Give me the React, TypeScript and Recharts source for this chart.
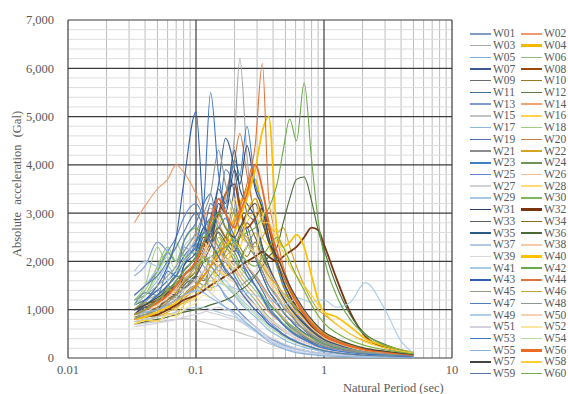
import React from "react";
import { LineChart, Line, XAxis, YAxis, CartesianGrid } from "recharts";

// natural periods (sec) shared by every spectrum
const PERIODS = [0.033, 0.04, 0.05, 0.06, 0.07, 0.08, 0.1, 0.115, 0.13, 0.15, 0.17, 0.2, 0.22, 0.25, 0.29, 0.33, 0.37, 0.43, 0.48, 0.54, 0.61, 0.7, 0.8, 0.9, 1, 1.25, 1.6, 2.1, 3, 4, 5];

// absolute acceleration (Gal), one list per wave
const W01 = [1000, 1150, 1400, 1300, 1600, 1500, 1900, 1700, 2100, 1800, 2000, 1700, 1500, 1300, 1100, 950, 800, 650, 560, 480, 400, 330, 270, 230, 200, 150, 110, 80, 60, 45, 35];
const W02 = [2800, 3150, 3500, 3700, 4000, 3850, 3400, 3000, 2600, 2300, 2100, 1900, 1700, 1500, 1300, 1100, 950, 800, 700, 600, 500, 420, 350, 300, 260, 200, 150, 110, 80, 60, 45];
const W03 = [1100, 1200, 1300, 1400, 1500, 1600, 1800, 2100, 2400, 2700, 3300, 4600, 6200, 4200, 2800, 2300, 1900, 1500, 1250, 1050, 850, 650, 500, 400, 330, 250, 180, 120, 80, 60, 45];
const W04 = [900, 950, 1000, 1100, 1200, 1300, 1500, 1700, 1900, 2200, 2500, 2900, 3200, 3500, 3700, 3000, 2400, 1900, 1500, 1200, 1000, 800, 600, 480, 400, 300, 220, 150, 100, 70, 55];
const W05 = [800, 950, 900, 1150, 1050, 1300, 1500, 1650, 1450, 1500, 1250, 1100, 950, 800, 650, 520, 420, 330, 270, 220, 180, 150, 120, 100, 90, 70, 55, 40, 30, 25, 20];
const W06 = [1200, 1400, 1900, 2300, 2000, 2200, 2500, 2300, 2700, 2400, 2100, 1800, 1600, 1400, 1200, 1000, 850, 700, 600, 520, 450, 380, 320, 270, 240, 180, 130, 95, 70, 55, 40];
const W07 = [1000, 1100, 1300, 1500, 1700, 1600, 2000, 2300, 2900, 3600, 4550, 3900, 3200, 2600, 2100, 1700, 1400, 1150, 950, 800, 650, 520, 430, 360, 300, 230, 170, 120, 90, 65, 50];
const W08 = [1000, 1100, 1200, 1350, 1500, 1700, 2000, 2300, 2600, 3000, 3400, 3600, 3100, 2700, 2900, 3100, 2700, 2000, 1600, 1300, 1050, 850, 650, 520, 430, 320, 230, 160, 110, 80, 60];
const W09 = [900, 1050, 1000, 1250, 1200, 1500, 1700, 2100, 1900, 2700, 2500, 3500, 3800, 3000, 2800, 2300, 1900, 1500, 1200, 950, 750, 580, 450, 370, 300, 220, 160, 110, 80, 60, 45];
const W10 = [850, 900, 1000, 1150, 1300, 1250, 1500, 1800, 2000, 1900, 2200, 2500, 2300, 2100, 2400, 2000, 1700, 1400, 1200, 1000, 850, 700, 550, 450, 380, 280, 200, 140, 95, 70, 55];
const W11 = [1100, 1200, 1400, 1600, 1800, 2100, 2400, 2700, 2900, 3000, 2700, 2400, 2200, 1900, 1650, 1400, 1150, 950, 800, 650, 530, 420, 330, 270, 230, 170, 120, 85, 60, 45, 35];
const W12 = [900, 1000, 1150, 1300, 1250, 1400, 1700, 1600, 1900, 2200, 2000, 1800, 2000, 2300, 2100, 1800, 1500, 1300, 1100, 950, 800, 650, 520, 430, 350, 260, 190, 130, 90, 65, 50];
const W13 = [1700, 1900, 2400, 2200, 2000, 2300, 2100, 1900, 1700, 1500, 1300, 1100, 950, 800, 650, 530, 430, 350, 290, 240, 200, 160, 130, 110, 95, 75, 55, 40, 30, 25, 20];
const W14 = [1000, 1100, 1300, 1500, 1700, 2000, 2500, 2900, 3100, 2800, 2500, 2300, 2100, 1900, 1700, 1450, 1250, 1000, 850, 700, 580, 470, 380, 310, 260, 200, 150, 105, 75, 55, 40];
const W15 = [700, 720, 750, 780, 800, 820, 780, 740, 700, 650, 600, 560, 520, 470, 420, 360, 300, 240, 200, 160, 130, 100, 80, 65, 55, 40, 30, 22, 18, 15, 12];
const W16 = [800, 900, 850, 1050, 1000, 1250, 1400, 1700, 1500, 2000, 1900, 2400, 2300, 2800, 3000, 2500, 2300, 1900, 1600, 1350, 1150, 950, 780, 640, 540, 400, 290, 200, 140, 100, 75];
const W17 = [1100, 1300, 1600, 1900, 1700, 2000, 2400, 2100, 1900, 1700, 1500, 1300, 1150, 1000, 850, 700, 580, 470, 390, 320, 270, 220, 180, 150, 130, 100, 75, 55, 40, 30, 25];
const W18 = [1200, 1500, 2300, 1900, 2400, 2100, 2300, 2600, 2400, 2100, 2300, 2000, 1800, 1600, 1400, 1200, 1000, 850, 720, 620, 530, 450, 380, 320, 280, 210, 150, 110, 80, 60, 45];
const W19 = [900, 1050, 1150, 1450, 1400, 1900, 2300, 2600, 3200, 3000, 3900, 3400, 2600, 2700, 2100, 1700, 1400, 1150, 950, 800, 650, 520, 420, 340, 290, 210, 150, 105, 75, 55, 40];
const W20 = [1000, 1050, 1150, 1300, 1450, 1600, 1900, 2200, 2500, 2900, 3400, 4100, 4650, 3800, 2900, 2300, 1900, 1550, 1300, 1100, 900, 720, 570, 460, 380, 280, 200, 140, 100, 75, 55];
const W21 = [800, 900, 880, 1100, 1050, 1300, 1500, 1400, 1900, 1700, 2300, 2000, 1900, 1800, 1500, 1300, 1100, 950, 800, 680, 560, 450, 360, 300, 250, 190, 140, 100, 70, 55, 40];
const W22 = [750, 800, 850, 950, 1050, 1150, 1300, 1500, 1700, 1900, 2100, 2300, 2500, 2400, 2300, 2500, 2700, 2600, 2700, 2300, 1900, 1500, 1200, 1000, 900, 700, 500, 350, 230, 160, 120];
const W23 = [1000, 1150, 1100, 1450, 1400, 1800, 2100, 2600, 2400, 3300, 3100, 4100, 3800, 4800, 3600, 3200, 2500, 1900, 1500, 1200, 950, 750, 580, 460, 380, 280, 200, 140, 100, 75, 55];
const W24 = [1000, 1100, 1300, 1500, 1700, 1650, 1900, 2100, 2000, 2300, 2500, 2200, 2000, 2300, 2600, 2200, 1800, 1500, 1300, 1150, 1000, 850, 700, 580, 480, 360, 260, 180, 120, 90, 65];
const W25 = [1300, 1500, 1800, 2200, 2500, 2900, 3200, 2900, 2600, 2300, 2000, 1700, 1500, 1300, 1100, 900, 750, 600, 500, 420, 350, 280, 220, 180, 150, 110, 80, 60, 45, 35, 25];
const W26 = [900, 950, 1050, 1150, 1300, 1450, 1600, 1800, 2000, 2200, 2000, 1800, 1700, 1900, 2100, 1900, 1600, 1300, 1100, 950, 800, 650, 520, 430, 360, 270, 200, 140, 100, 70, 55];
const W27 = [700, 730, 780, 850, 900, 950, 1000, 980, 940, 900, 850, 800, 750, 680, 600, 520, 440, 360, 300, 250, 200, 160, 130, 110, 90, 70, 50, 38, 28, 22, 18];
const W28 = [1000, 1150, 1100, 1400, 1350, 1700, 2000, 2400, 2200, 2900, 2700, 3300, 3000, 2500, 2600, 2000, 1700, 1400, 1200, 1000, 850, 700, 560, 460, 380, 280, 200, 140, 100, 75, 55];
const W29 = [1800, 2000, 1900, 2200, 2000, 2300, 2500, 2200, 2000, 1800, 1600, 1400, 1250, 1100, 950, 800, 680, 560, 470, 400, 340, 280, 230, 190, 160, 120, 90, 65, 50, 38, 30];
const W30 = [1100, 1300, 1800, 2200, 2000, 2400, 2700, 2500, 2900, 2600, 2300, 2100, 1900, 1700, 1500, 1300, 1100, 950, 800, 700, 600, 500, 420, 350, 300, 230, 170, 120, 85, 65, 50];
const W31 = [900, 1050, 1000, 1350, 1300, 1700, 2000, 2500, 2300, 3200, 3000, 3900, 3600, 4400, 3500, 3100, 2500, 2000, 1600, 1300, 1050, 850, 670, 540, 450, 330, 240, 170, 120, 90, 65];
const W32 = [800, 850, 900, 1000, 1100, 1200, 1300, 1400, 1500, 1600, 1700, 1800, 1900, 2000, 2100, 2200, 2100, 2000, 2100, 2200, 2300, 2500, 2700, 2650, 2350, 1650, 950, 450, 220, 140, 95];
const W33 = [1000, 1050, 1200, 1350, 1500, 1450, 1700, 2000, 2300, 2600, 2400, 2200, 2500, 2800, 2500, 2100, 1800, 1500, 1250, 1050, 880, 720, 580, 470, 390, 290, 210, 150, 100, 75, 55];
const W34 = [900, 950, 1050, 1200, 1350, 1550, 1800, 2100, 2400, 2700, 2500, 2300, 2600, 3000, 3300, 2900, 2400, 2000, 1700, 1400, 1150, 920, 720, 580, 480, 350, 250, 170, 120, 85, 65];
const W35 = [1000, 1150, 1100, 1500, 1400, 1900, 2200, 2700, 2500, 3500, 3200, 4300, 3500, 3200, 2900, 2300, 1900, 1500, 1250, 1050, 870, 700, 560, 450, 380, 280, 200, 140, 100, 75, 55];
const W36 = [700, 750, 800, 850, 900, 950, 1000, 1050, 1100, 1150, 1200, 1300, 1400, 1500, 1700, 1900, 2100, 2300, 2800, 3300, 3700, 3750, 3250, 2650, 2250, 1500, 900, 500, 280, 170, 110];
const W37 = [1300, 1500, 1800, 1600, 1900, 1700, 1600, 1500, 1350, 1200, 1050, 900, 780, 660, 550, 450, 370, 300, 250, 210, 170, 140, 115, 95, 80, 60, 45, 35, 26, 20, 16];
const W38 = [900, 1000, 1100, 1250, 1400, 1600, 1900, 2100, 2400, 2200, 2000, 2300, 2600, 2400, 2200, 2000, 1800, 1500, 1300, 1100, 950, 780, 620, 510, 420, 310, 220, 150, 105, 80, 60];
const W39 = [800, 850, 950, 1100, 1250, 1400, 1600, 1800, 1700, 1600, 1500, 1400, 1300, 1200, 1100, 950, 820, 700, 600, 520, 440, 370, 300, 250, 210, 160, 115, 80, 60, 45, 35];
const W40 = [800, 850, 950, 1050, 1150, 1300, 1500, 1700, 1900, 2100, 2300, 2600, 2900, 3300, 3900, 4700, 5000, 2600, 2300, 2400, 2550, 2300, 1700, 1200, 950, 850, 650, 400, 250, 160, 110];
const W41 = [900, 950, 1000, 1100, 1200, 1300, 1400, 1500, 1600, 1550, 1500, 1450, 1400, 1350, 1300, 1250, 1200, 1150, 1100, 1150, 1250, 1200, 1150, 1200, 1200, 1050, 1150, 1560, 1000, 350, 100];
const W42 = [1000, 1100, 1250, 1400, 1550, 1700, 1900, 2000, 2100, 2200, 2300, 2400, 2500, 2600, 2700, 2900, 3100, 3600, 4300, 4950, 4500, 5700, 4100, 2850, 2100, 1300, 800, 480, 260, 160, 100];
const W43 = [1000, 1200, 1500, 1900, 2500, 3600, 5100, 2900, 2400, 2100, 1800, 1600, 1400, 1200, 1000, 850, 700, 580, 480, 400, 330, 270, 220, 180, 150, 110, 80, 60, 45, 35, 25];
const W44 = [900, 950, 1000, 1100, 1200, 1300, 1500, 1700, 1900, 2100, 2400, 2800, 3100, 3600, 4400, 6100, 3300, 2500, 1900, 1500, 1200, 950, 750, 600, 500, 370, 260, 180, 130, 95, 70];
const W45 = [800, 900, 1000, 1150, 1300, 1450, 1600, 1500, 1700, 1900, 1750, 1600, 1500, 1600, 1700, 1500, 1300, 1100, 950, 820, 700, 590, 480, 400, 340, 250, 180, 130, 90, 70, 50];
const W46 = [1000, 1150, 1100, 1450, 1350, 1600, 1800, 2100, 1900, 2500, 2300, 3100, 2600, 2500, 2100, 1900, 1700, 1500, 1350, 1200, 1050, 900, 750, 620, 520, 390, 280, 190, 130, 95, 70];
const W47 = [1100, 1350, 1300, 1800, 1700, 2400, 2800, 3200, 3400, 2700, 2900, 2300, 2100, 1700, 1500, 1250, 1050, 850, 700, 580, 480, 390, 310, 250, 210, 150, 110, 80, 60, 45, 35];
const W48 = [1200, 1300, 1500, 1700, 1900, 2200, 2600, 3000, 3400, 4300, 3600, 3000, 2700, 2400, 2100, 1800, 1500, 1250, 1050, 900, 750, 600, 480, 390, 320, 240, 170, 120, 85, 65, 50];
const W49 = [750, 800, 850, 900, 950, 1000, 1050, 1050, 1000, 950, 900, 850, 800, 700, 580, 470, 370, 280, 220, 170, 130, 100, 80, 65, 55, 40, 30, 22, 17, 14, 11];
const W50 = [900, 950, 1100, 1250, 1450, 1700, 2000, 2300, 2100, 1900, 1700, 1550, 1400, 1250, 1100, 950, 800, 680, 570, 480, 400, 330, 270, 220, 185, 140, 100, 70, 52, 40, 30];
const W51 = [650, 680, 720, 760, 800, 850, 900, 950, 1000, 1050, 1000, 950, 880, 780, 650, 520, 400, 300, 230, 180, 140, 110, 85, 70, 58, 42, 30, 22, 17, 14, 11];
const W52 = [700, 780, 760, 880, 850, 1000, 1150, 1300, 1250, 1600, 1500, 1900, 1800, 2300, 2200, 2900, 3200, 2500, 2400, 2000, 1700, 1400, 1100, 880, 720, 520, 370, 250, 170, 120, 85];
const W53 = [1000, 1100, 1300, 1500, 1700, 2000, 2400, 3200, 5500, 3800, 3000, 2500, 2100, 1800, 1500, 1250, 1000, 820, 680, 560, 460, 370, 300, 240, 200, 150, 110, 80, 60, 45, 35];
const W54 = [1100, 1300, 1700, 2100, 1800, 2000, 2200, 2000, 1800, 1650, 1500, 1350, 1200, 1050, 900, 760, 640, 530, 440, 370, 310, 260, 210, 175, 150, 110, 80, 58, 42, 32, 25];
const W55 = [900, 950, 1000, 1100, 1200, 1300, 1400, 1350, 1250, 1150, 1050, 950, 850, 720, 580, 450, 340, 250, 190, 145, 110, 85, 68, 55, 46, 34, 25, 18, 14, 11, 9];
const W56 = [900, 1000, 1150, 1300, 1500, 1700, 2000, 2400, 2800, 3300, 3000, 2700, 3000, 3400, 4000, 3500, 2800, 2200, 1800, 1450, 1150, 900, 700, 560, 460, 340, 240, 170, 120, 85, 65];
const W57 = [1000, 1100, 1250, 1400, 1600, 1800, 2100, 2400, 2700, 3000, 2700, 2500, 2700, 3000, 3200, 2800, 2400, 2100, 1800, 1500, 1250, 1000, 800, 650, 540, 400, 290, 200, 140, 100, 75];
const W58 = [700, 780, 760, 920, 900, 1100, 1250, 1500, 1400, 1800, 1700, 2400, 2300, 3000, 3300, 2800, 2800, 2400, 2200, 1900, 1700, 1500, 1300, 1100, 950, 700, 500, 330, 210, 140, 100];
const W59 = [1300, 1500, 1700, 2000, 2300, 2600, 3000, 2700, 2400, 2100, 1850, 1600, 1400, 1200, 1000, 850, 700, 580, 480, 400, 330, 270, 220, 180, 150, 110, 80, 58, 42, 32, 25];
const W60 = [900, 1000, 1200, 1400, 1600, 1800, 2100, 2400, 2700, 3000, 2700, 2400, 2200, 2000, 1900, 2100, 2300, 2500, 2300, 2000, 1700, 1400, 1100, 880, 720, 520, 370, 260, 170, 120, 85];

const SERIES_NAMES = [
  "W01", "W02", "W03", "W04", "W05", "W06", "W07", "W08", "W09", "W10",
  "W11", "W12", "W13", "W14", "W15", "W16", "W17", "W18", "W19", "W20",
  "W21", "W22", "W23", "W24", "W25", "W26", "W27", "W28", "W29", "W30",
  "W31", "W32", "W33", "W34", "W35", "W36", "W37", "W38", "W39", "W40",
  "W41", "W42", "W43", "W44", "W45", "W46", "W47", "W48", "W49", "W50",
  "W51", "W52", "W53", "W54", "W55", "W56", "W57", "W58", "W59", "W60",
];
const SERIES_VALUES = [
  W01, W02, W03, W04, W05, W06, W07, W08, W09, W10,
  W11, W12, W13, W14, W15, W16, W17, W18, W19, W20,
  W21, W22, W23, W24, W25, W26, W27, W28, W29, W30,
  W31, W32, W33, W34, W35, W36, W37, W38, W39, W40,
  W41, W42, W43, W44, W45, W46, W47, W48, W49, W50,
  W51, W52, W53, W54, W55, W56, W57, W58, W59, W60,
];

const COLORS = [
  "#7f9cc9", "#ee9a6a", "#a9a9a9", "#f5b800", "#7aaede", "#93bd7a", "#3b5a93", "#9e480e", "#6b6b6b", "#9a7a1a",
  "#3a6f9e", "#5a7e45", "#7d9ad4", "#f1a172", "#c4c4c4", "#ffd24d", "#8ab8e0", "#9fcc80", "#4a6eb0", "#cc7a40",
  "#8c8c8c", "#d6a520", "#3f82c4", "#6f9552", "#5f86cf", "#f4bc95", "#d2d2d2", "#ffdc78", "#a4c8e8", "#7cb75a",
  "#2c4270", "#7a3510", "#5c5c5c", "#8a6d1a", "#2a5a8a", "#4a6a38", "#b4c7e7", "#f6c9a8", "#d8d8d8", "#ffc000",
  "#a8cce8", "#6aaa4a", "#2f5fb0", "#e0733a", "#8f9a88", "#c4a830", "#4f7fb8", "#8f9a8f", "#b0cde8", "#f7d0b8",
  "#d6cfe0", "#fbe6a0", "#3e74c8", "#b6daa0", "#86b4e0", "#ed6a24", "#444444", "#ffcc33", "#5578a8", "#70ad47",
];
const THICK = ["W04", "W08", "W32", "W40", "W56"];

const X_TICKS = [0.01, 0.1, 1, 10];
const X_MINOR = [0.02, 0.03, 0.04, 0.05, 0.06, 0.07, 0.08, 0.09, 0.2, 0.3, 0.4, 0.5, 0.6, 0.7, 0.8, 0.9, 2, 3, 4, 5, 6, 7, 8, 9];
const Y_TICKS = [0, 1000, 2000, 3000, 4000, 5000, 6000, 7000];
const Y_MINOR = [200, 400, 600, 800, 1200, 1400, 1600, 1800, 2200, 2400, 2600, 2800, 3200, 3400, 3600, 3800, 4200, 4400, 4600, 4800, 5200, 5400, 5600, 5800, 6200, 6400, 6600, 6800];

const FONT = "Liberation Serif, serif";
const TEXT = "#595959";

const data = PERIODS.map((T, i) => {
  const row: Record<string, number> = { T };
  SERIES_NAMES.forEach((name, k) => {
    row[name] = SERIES_VALUES[k][i];
  });
  return row;
});

const at = (axis: any, v: number) => {
  const s = axis && axis.scale;
  if (!s) return 0;
  return typeof s === "function" ? s(v) : s.map(v);
};

const Legend2 = () => {
  const rows = [];
  for (let r = 0; r < 30; r++) {
    rows.push(
      <div key={r} style={{ display: "flex", height: 11.72, alignItems: "center" }}>
        {[0, 1].map((c) => {
          const k = r * 2 + c;
          const thick = THICK.includes(SERIES_NAMES[k]);
          return (
            <div key={c} style={{ display: "flex", alignItems: "center", width: 51 }}>
              <div style={{ width: 21, height: thick ? 2.5 : 1.5, background: COLORS[k], marginRight: 2 }} />
              <span>{SERIES_NAMES[k]}</span>
            </div>
          );
        })}
      </div>
    );
  }
  return (
    <div style={{ position: "absolute", left: 470, top: 28, fontFamily: FONT, fontSize: 11.5, color: TEXT, lineHeight: "11px" }}>
      {rows}
    </div>
  );
};

export default function App() {
  return (
    <div style={{ position: "absolute", left: 0, top: 0, width: 568, height: 394, background: "#fff" }}>
      <LineChart width={568} height={394} data={data} margin={{ top: 20, right: 116, left: 8, bottom: 6 }}>
        <CartesianGrid
          horizontal={false}
          stroke="#bdbdbd"
          verticalCoordinatesGenerator={({ xAxis }: any) => X_MINOR.map((v) => at(xAxis, v))}
        />
        <CartesianGrid
          vertical={false}
          stroke="#dedede"
          horizontalCoordinatesGenerator={({ yAxis }: any) => Y_MINOR.map((v) => at(yAxis, v))}
        />
        <CartesianGrid
          stroke="#3c3c3c"
          strokeWidth={1.2}
          verticalCoordinatesGenerator={({ xAxis }: any) => X_TICKS.map((v) => at(xAxis, v))}
          horizontalCoordinatesGenerator={({ yAxis }: any) => Y_TICKS.map((v) => at(yAxis, v))}
        />
        <XAxis
          dataKey="T"
          type="number"
          scale="log"
          domain={[0.01, 10]}
          ticks={X_TICKS}
          allowDataOverflow
          height={30}
          tickSize={0}
          tickMargin={7}
          axisLine={false}
          tickLine={false}
          tickFormatter={(v: number) => String(v)}
          tick={{ fill: TEXT, fontSize: 12.5, fontFamily: FONT }}
          interval={0}
        />
        <YAxis
          type="number"
          domain={[0, 7000]}
          ticks={Y_TICKS}
          width={60}
          tickSize={0}
          tickMargin={14}
          axisLine={false}
          tickLine={false}
          tickFormatter={(v: number) => v.toLocaleString("en-US")}
          tick={{ fill: TEXT, fontSize: 12.5, fontFamily: FONT }}
          interval={0}
        />
        {SERIES_NAMES.map((name, k) => (
          <Line
            key={name}
            dataKey={name}
            stroke={COLORS[k]}
            strokeWidth={THICK.includes(name) ? 1.8 : 1.1}
            dot={false}
            type="monotone"
            isAnimationActive={false}
          />
        ))}
      </LineChart>
      <div
        style={{
          position: "absolute",
          left: 17,
          top: 184,
          transform: "translate(-50%, -50%) rotate(-90deg)",
          whiteSpace: "nowrap",
          fontFamily: FONT,
          fontSize: 12.5,
          wordSpacing: 4,
          color: TEXT,
        }}
      >
        Absolute acceleration (Gal)
      </div>
      <div
        style={{
          position: "absolute",
          left: 343,
          top: 381,
          whiteSpace: "nowrap",
          fontFamily: FONT,
          fontSize: 12.5,
          color: TEXT,
        }}
      >
        Natural Period (sec)
      </div>
      <Legend2 />
    </div>
  );
}
